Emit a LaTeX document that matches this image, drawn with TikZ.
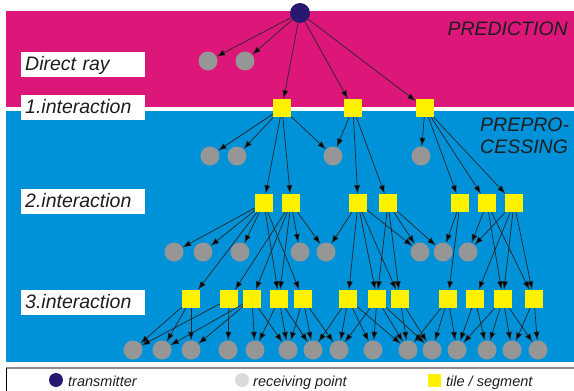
\documentclass[tikz,border=0pt]{standalone}
\usepackage{fontspec}
\setmainfont{Liberation Sans}
\usetikzlibrary{arrows.meta}
\definecolor{predmag}{RGB}{221,22,121}
\definecolor{prepblue}{RGB}{0,146,217}
\definecolor{txnavy}{RGB}{40,24,110}
\definecolor{rxgray}{RGB}{150,150,150}
\definecolor{keygray}{RGB}{218,218,218}
\definecolor{tileyellow}{RGB}{255,242,0}
\definecolor{labelgray}{RGB}{30,30,30}
\begin{document}
\begin{tikzpicture}[
    x=1pt, y=-1pt,
    every node/.style={inner sep=0pt, text=labelgray},
    tx/.style={circle, fill=txnavy, minimum size=20pt},
    rx/.style={circle, fill=rxgray, minimum size=19pt},
    tile/.style={fill=tileyellow, minimum size=18pt},
    levelbox/.style={fill=white, anchor=north west, minimum height=25pt,
        text width=116pt, inner xsep=4pt, text height=14pt, text depth=3pt,
        font=\itshape\fontsize{19.5}{22}\selectfont},
    phase/.style={anchor=base west, font=\itshape\fontsize{19.5}{22}\selectfont},
    key/.style={anchor=base west, font=\itshape\fontsize{14.5}{17}\selectfont},
    ray/.style={draw=black!85, line width=0.7pt, -{Latex[length=8.5pt,width=6pt]}}
]
\useasboundingbox (0,0) rectangle (574,391);
% bands
\fill[predmag] (6,11) rectangle (574,107);
\fill[prepblue] (6,111) rectangle (574,362);
\draw[black!45, line width=2pt] (6,368) -- (574,368);
\draw[black, line width=1pt] (6,368) -- (6,391);

\node[levelbox] (direct) at (21,52) {Direct ray};
\node[levelbox] (inter1) at (21,95) {1.interaction};
\node[levelbox] (inter2) at (21,189) {2.interaction};
\node[levelbox] (inter3) at (21,290) {3.interaction};
\node[phase, anchor=base east] (pred) at (568,35) {PREDICTION};
\node[phase] (prepro) at (480,131) {PREPRO-};
\node[phase] (cessing) at (480,153) {CESSING};

% transmitter and direct ray
\node[tx] (T) at (300,13) {};
\node[rx] (d1) at (208,61) {};
\node[rx] (d2) at (245,61) {};

% 1. interaction
\node[tile] (a1) at (282,108) {};
\node[tile] (a2) at (353,108) {};
\node[tile] (a3) at (425,108) {};
\node[rx] (r1) at (210,156) {};
\node[rx] (r2) at (237,156) {};
\node[rx] (r3) at (333,156) {};
\node[rx] (r4) at (421,156) {};

% 2. interaction
\node[tile] (b1) at (264,203) {};
\node[tile] (b2) at (291,203) {};
\node[tile] (b3) at (358,203) {};
\node[tile] (b4) at (388,203) {};
\node[tile] (b5) at (460,203) {};
\node[tile] (b6) at (487,203) {};
\node[tile] (b7) at (514,203) {};
\node[rx] (c1) at (174,252) {};
\node[rx] (c2) at (203,252) {};
\node[rx] (c3) at (240,252) {};
\node[rx] (c4) at (300,252) {};
\node[rx] (c5) at (326,252) {};
\node[rx] (c6) at (420,252) {};
\node[rx] (c7) at (443,252) {};
\node[rx] (c8) at (468,252) {};

% 3. interaction
\node[tile] (e1) at (191,299) {};
\node[tile] (e2) at (229,299) {};
\node[tile] (e3) at (252,299) {};
\node[tile] (e4) at (279,299) {};
\node[tile] (e5) at (303,299) {};
\node[tile] (e6) at (348,299) {};
\node[tile] (e7) at (377,299) {};
\node[tile] (e8) at (400,299) {};
\node[tile] (e9) at (448,299) {};
\node[tile] (e10) at (475,299) {};
\node[tile] (e11) at (503,299) {};
\node[tile] (e12) at (534,299) {};
\node[rx] (f1) at (133,350) {};
\node[rx] (f2) at (162,350) {};
\node[rx] (f3) at (191,350) {};
\node[rx] (f4) at (228,350) {};
\node[rx] (f5) at (255,350) {};
\node[rx] (f6) at (288,350) {};
\node[rx] (f7) at (313,350) {};
\node[rx] (f8) at (339,350) {};
\node[rx] (f9) at (373,350) {};
\node[rx] (f10) at (408,350) {};
\node[rx] (f11) at (432,350) {};
\node[rx] (f12) at (457,350) {};
\node[rx] (f13) at (487,350) {};
\node[rx] (f14) at (512,350) {};
\node[rx] (f15) at (538,350) {};

% rays
\path[ray] (T) edge (d1) edge (d2) edge (a1) edge (a2) edge (a3);
\path[ray] (a1) edge (r1) edge (r2) edge (r3) edge (b1) edge (b2);
\path[ray] (a2) edge (r3) edge (b3) edge (b4);
\path[ray] (a3) edge (r4) edge (b5) edge (b6) edge (b7);
\path[ray] (b1) edge (c1) edge (c2) edge (c3) edge (e1) edge (e4) edge (e5);
\path[ray] (b2) edge (c4) edge (c5) edge (e2) edge (e3) edge (e4);
\path[ray] (b3) edge (c5) edge (c6) edge (e6) edge (e7) edge (e8);
\path[ray] (b4) edge (c6) edge (c7) edge (e7) edge (e8);
\path[ray] (b5) edge (c7) edge (e9);
\path[ray] (b6) edge (c8) edge (e11) edge (e12);
\path[ray] (b7) edge (c8) edge (e10) edge (e11) edge (e12);
\path[ray] (e1) edge (f1) edge (f2) edge (f3);
\path[ray] (e2) edge (f1) edge (f4);
\path[ray] (e3) edge (f2) edge (f3) edge (f5) edge (f6);
\path[ray] (e4) edge (f5) edge (f6) edge (f7);
\path[ray] (e5) edge (f6) edge (f7) edge (f8);
\path[ray] (e6) edge (f7) edge (f8) edge (f9) edge (f10);
\path[ray] (e7) edge (f8) edge (f9) edge (f10) edge (f11);
\path[ray] (e8) edge (f10) edge (f11);
\path[ray] (e9) edge (f10) edge (f11) edge (f12);
\path[ray] (e10) edge (f12) edge (f13);
\path[ray] (e11) edge (f12) edge (f13) edge (f14) edge (f15);
\path[ray] (e12) edge (f14) edge (f15);

% legend
\node[tx, minimum size=14pt] (keytx) at (56,380) {};
\node[key] (keytxt) at (68,386) {transmitter};
\node[circle, fill=keygray, minimum size=14pt] (keyrx) at (242,380) {};
\node[key] (keyrxt) at (253,386) {receiving point};
\node[tile, minimum size=13pt] (keytile) at (434,380) {};
\node[key] (keytilet) at (446,386) {tile / segment};
\end{tikzpicture}
\end{document}
